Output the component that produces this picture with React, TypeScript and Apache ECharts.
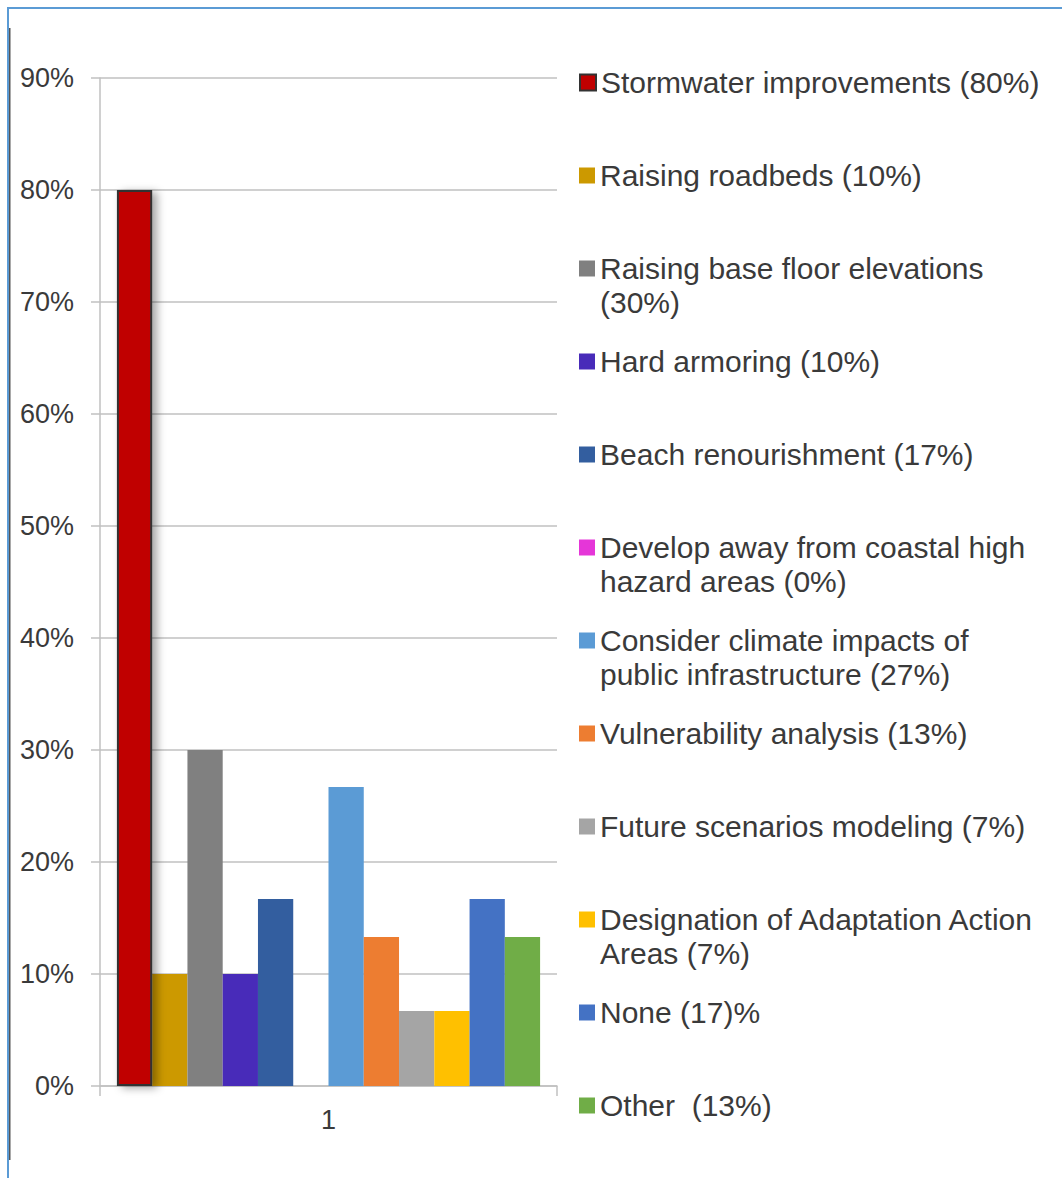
import React, { useEffect, useRef } from "react";
import * as echarts from "echarts";

const categories = ["1"];
const seriesNames = [
  "Stormwater improvements (80%)",
  "Raising roadbeds (10%)",
  "Raising base floor elevations (30%)",
  "Hard armoring (10%)",
  "Beach renourishment (17%)",
  "Develop away from coastal high hazard areas (0%)",
  "Consider climate impacts of public infrastructure (27%)",
  "Vulnerability analysis (13%)",
  "Future scenarios modeling (7%)",
  "Designation of Adaptation Action Areas (7%)",
  "None (17)%",
  "Other  (13%)",
];
const legendLines = [
  ["Stormwater improvements (80%)"],
  ["Raising roadbeds (10%)"],
  ["Raising base floor elevations", "(30%)"],
  ["Hard armoring (10%)"],
  ["Beach renourishment (17%)"],
  ["Develop away from coastal high", "hazard areas (0%)"],
  ["Consider climate impacts of", "public infrastructure (27%)"],
  ["Vulnerability analysis (13%)"],
  ["Future scenarios modeling (7%)"],
  ["Designation of Adaptation Action", "Areas (7%)"],
  ["None (17)%"],
  ["Other  (13%)"],
];
const values = [80, 10, 30, 10, 16.7, 0, 26.7, 13.3, 6.7, 6.7, 16.7, 13.3];
const colors = [
  "#C00000",
  "#CC9900",
  "#808080",
  "#482BB9",
  "#335E9F",
  "#E536D8",
  "#5B9BD5",
  "#ED7D31",
  "#A5A5A5",
  "#FFC000",
  "#4472C4",
  "#70AD47",
];
const yTicks = [0, 10, 20, 30, 40, 50, 60, 70, 80, 90];

const FONT = "'Liberation Sans', Arial, sans-serif";
const TEXT = "#3A3A3A";
const GRIDC = "#C0C0C0";
const LH = 34;

export default function App() {
  const ref = useRef<HTMLDivElement>(null);
  useEffect(() => {
    if (!ref.current) return;
    const chart = echarts.init(ref.current, null, { renderer: "svg" });
    const legends = seriesNames.map((name, i) => {
      const lines = legendLines[i];
      const label = lines.length === 1 ? "\n" + lines[0] + "\n" : "\n" + lines.join("\n");
      const center = 82.5 + 93 * i;
      return {
        data: [name],
        orient: "vertical",
        left: 579,
        top: center - 1.5 * LH,
        padding: 0,
        itemWidth: 16,
        itemHeight: 16,
        icon: "rect",
        selectedMode: false,
        formatter: () => label,
        textStyle: {
          fontFamily: FONT,
          fontSize: 30,
          color: TEXT,
          lineHeight: LH,
        },
      };
    });
    const option: any = {
      animation: false,
      backgroundColor: "#ffffff",
      textStyle: { fontFamily: FONT },
      grid: { left: 100, top: 78, width: 457, height: 1008, containLabel: false },
      xAxis: {
        type: "category",
        data: categories,
        axisLine: { show: true, lineStyle: { color: GRIDC, width: 1.5 } },
        axisTick: { show: true, length: 10, alignWithLabel: false, lineStyle: { color: GRIDC, width: 1.5 } },
        axisLabel: { fontFamily: FONT, fontSize: 27, color: TEXT, margin: 20 },
      },
      yAxis: {
        type: "value",
        min: yTicks[0],
        max: yTicks[yTicks.length - 1],
        interval: 10,
        axisLine: { show: true, lineStyle: { color: GRIDC, width: 1.5 } },
        axisTick: { show: true, length: 9, lineStyle: { color: GRIDC, width: 1.5 } },
        splitLine: { show: true, lineStyle: { color: GRIDC, width: 1.5 } },
        axisLabel: {
          fontFamily: FONT,
          fontSize: 27,
          color: TEXT,
          margin: 26,
          formatter: "{value}%",
        },
      },
      legend: legends,
      series: seriesNames.map((name, i) => ({
        type: "bar",
        name,
        data: [values[i]],
        barGap: "0%",
        barCategoryGap: "7.4%",
        z: i === 0 ? 3 : 2,
        itemStyle:
          i === 0
            ? {
                color: colors[i],
                borderColor: "#333333",
                borderWidth: 2,
                shadowBlur: 8,
                shadowOffsetX: 5,
                shadowOffsetY: 2,
                shadowColor: "rgba(0,0,0,0.35)",
              }
            : { color: colors[i] },
      })),
      graphic: [
        { type: "rect", shape: { x: 8, y: 7, width: 1054, height: 2 }, style: { fill: "#5B9BD5" } },
        { type: "rect", shape: { x: 7, y: 7, width: 2, height: 1171 }, style: { fill: "#5B9BD5" } },
        { type: "rect", shape: { x: 9, y: 28, width: 1.5, height: 1132 }, style: { fill: "#555555" } },
      ],
    };
    chart.setOption(option);
    return () => chart.dispose();
  }, []);
  return (
    <div
      ref={ref}
      style={{ position: "absolute", left: 0, top: 0, width: 1062, height: 1178 }}
    />
  );
}
